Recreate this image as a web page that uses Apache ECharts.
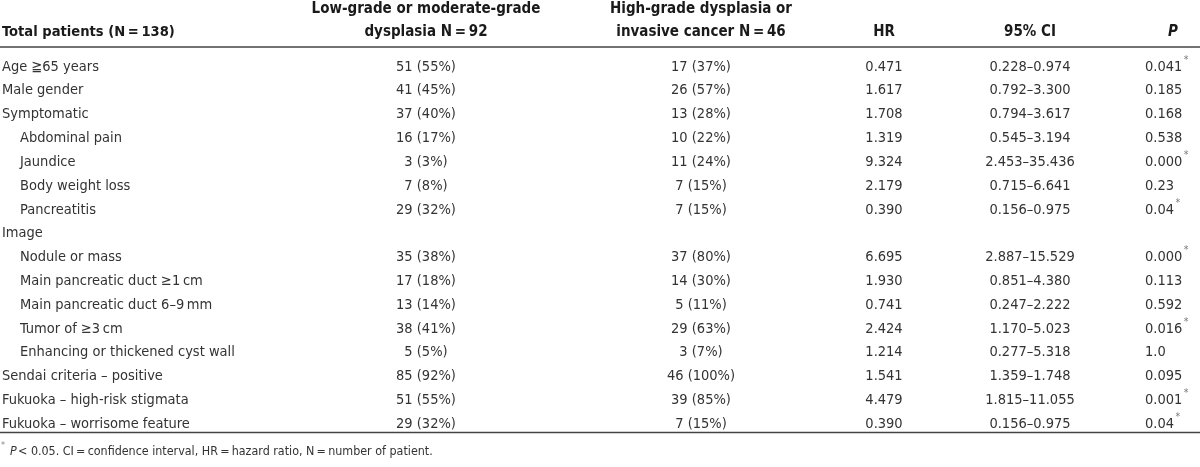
<!DOCTYPE html>
<html><head><meta charset="utf-8">
<script src="https://cdn.jsdelivr.net/npm/echarts@6/dist/echarts.min.js"></script>
<style>html,body{margin:0;padding:0;background:#fff}#c{width:1200px;height:467px}</style>
</head><body><div id="c"></div>
<script>
// ---- data ----
const rowLabels = ["Age \u226765 years","Male gender","Symptomatic","Abdominal pain","Jaundice","Body weight loss","Pancreatitis","Image","Nodule or mass","Main pancreatic duct \u22651\u2009cm","Main pancreatic duct 6\u20139\u2009mm","Tumor of \u22653\u2009cm","Enhancing or thickened cyst wall","Sendai criteria \u2013 positive","Fukuoka \u2013 high-risk stigmata","Fukuoka \u2013 worrisome feature"];
const rowIndent = [0,0,0,1,1,1,1,0,1,1,1,1,1,0,0,0];
const lowN   = [51,41,37,16,3,7,29,null,35,17,13,38,5,85,51,29];
const lowPct = [55,45,40,17,3,8,32,null,38,18,14,41,5,92,55,32];
const highN  = [17,26,13,10,11,7,7,null,37,14,5,29,3,46,39,7];
const highPct= [37,57,28,22,24,15,15,null,80,30,11,63,7,100,85,15];
const hrVals = ["0.471","1.617","1.708","1.319","9.324","2.179","0.390",null,"6.695","1.930","0.741","2.424","1.214","1.541","4.479","0.390"];
const ciLow  = ["0.228","0.792","0.794","0.545","2.453","0.715","0.156",null,"2.887","0.851","0.247","1.170","0.277","1.359","1.815","0.156"];
const ciHigh = ["0.974","3.300","3.617","3.194","35.436","6.641","0.975",null,"15.529","4.380","2.222","5.023","5.318","1.748","11.055","0.975"];
const pVals  = ["0.041","0.185","0.168","0.538","0.000","0.23","0.04",null,"0.000","0.113","0.592","0.016","1.0","0.095","0.001","0.04"];
const pSig   = [1,0,0,0,1,0,1,0,1,0,0,1,0,0,1,1];
const headerFirst = "Total patients (N\u2009=\u2009138)";
const headerLow = ["Low-grade or moderate-grade","dysplasia N\u2009=\u200992"];
const headerHigh = ["High-grade dysplasia or","invasive cancer N\u2009=\u200946"];
const headerHR = "HR", headerCI = "95% CI", headerP = "P";
const footnote = "< 0.05. CI\u2009=\u2009confidence interval, HR\u2009=\u2009hazard ratio, N\u2009=\u2009number of patient.";

// ---- layout ----
const FONT = '"Liberation Sans Narrow","DejaVu Sans Condensed","Liberation Sans",sans-serif';
const BODY_SIZE = 14.5;
const BODY = {fontFamily: FONT, fontSize: BODY_SIZE, fill: '#333'};
const FOOT = {fontFamily: FONT, fontSize: 12.4, fill: '#333'};
const HEAD = {fontFamily: FONT, fontSize: 15, fontWeight: 'bold', fill: '#1a1a1a'};
const COL = {label: 2, indent: 20, low: 426, high: 701, hr: 884, ci: 1030, p: 1145};

const measureCtx = document.createElement('canvas').getContext('2d');
function textWidth(t, size) {
  measureCtx.font = size + 'px ' + FONT;
  return measureCtx.measureText(t).width;
}

const chart = echarts.init(document.getElementById('c'), null, {renderer: 'canvas'});
const idx = rowLabels.map((_, i) => i);

function textSeries(name, fn) {
  return {
    type: 'custom', name, coordinateSystem: 'cartesian2d', silent: true,
    data: idx.map(i => [0, i]),
    encode: {x: 0, y: 1},
    renderItem: function (params, api) {
      return fn(api.value(1), api);
    }
  };
}
function txt(x, y, text, align, extra) {
  return {type: 'text', style: Object.assign({x, y, text, align, verticalAlign: 'middle'}, BODY, extra || {})};
}

const series = [
  textSeries('label', (i, api) => {
    const p = api.coord([rowIndent[i] ? COL.indent : COL.label, i]);
    return txt(p[0], p[1], rowLabels[i], 'left');
  }),
  textSeries('low', (i, api) => {
    if (lowN[i] == null) return null;
    const p = api.coord([COL.low, i]);
    return txt(p[0], p[1], lowN[i] + ' (' + lowPct[i] + '%)', 'center');
  }),
  textSeries('high', (i, api) => {
    if (highN[i] == null) return null;
    const p = api.coord([COL.high, i]);
    return txt(p[0], p[1], highN[i] + ' (' + highPct[i] + '%)', 'center');
  }),
  textSeries('hr', (i, api) => {
    if (hrVals[i] == null) return null;
    const p = api.coord([COL.hr, i]);
    return txt(p[0], p[1], hrVals[i], 'center');
  }),
  textSeries('ci', (i, api) => {
    if (ciLow[i] == null) return null;
    const p = api.coord([COL.ci, i]);
    return txt(p[0], p[1], ciLow[i] + '\u2013' + ciHigh[i], 'center');
  }),
  textSeries('p', (i, api) => {
    if (pVals[i] == null) return null;
    const p = api.coord([COL.p, i]);
    const children = [txt(p[0], p[1], pVals[i], 'left')];
    if (pSig[i]) {
      children.push({type: 'text', style: {x: p[0] + textWidth(pVals[i], BODY_SIZE) + 1.5, y: p[1] - 7, text: '*', align: 'left', verticalAlign: 'middle', fontFamily: FONT, fontSize: 10.5, fill: '#777'}});
    }
    return {type: 'group', children};
  })
];

const LINE = {stroke: '#444', lineWidth: 1.5};
const graphic = [
  {type: 'text', style: Object.assign({x: 2, y: 32, text: headerFirst, align: 'left', verticalAlign: 'middle'}, HEAD, {fontSize: 14.6})},
  {type: 'text', style: Object.assign({x: COL.low, y: 9, text: headerLow[0], align: 'center', verticalAlign: 'middle'}, HEAD)},
  {type: 'text', style: Object.assign({x: COL.low, y: 32, text: headerLow[1], align: 'center', verticalAlign: 'middle'}, HEAD)},
  {type: 'text', style: Object.assign({x: COL.high, y: 9, text: headerHigh[0], align: 'center', verticalAlign: 'middle'}, HEAD)},
  {type: 'text', style: Object.assign({x: COL.high, y: 32, text: headerHigh[1], align: 'center', verticalAlign: 'middle'}, HEAD)},
  {type: 'text', style: Object.assign({x: COL.hr, y: 32, text: headerHR, align: 'center', verticalAlign: 'middle'}, HEAD)},
  {type: 'text', style: Object.assign({x: COL.ci, y: 32, text: headerCI, align: 'center', verticalAlign: 'middle'}, HEAD)},
  {type: 'text', style: Object.assign({x: 1173, y: 32, text: headerP, align: 'center', verticalAlign: 'middle', fontStyle: 'italic'}, HEAD)},
  {type: 'line', shape: {x1: 0, y1: 47, x2: 1200, y2: 47}, style: LINE},
  {type: 'line', shape: {x1: 0, y1: 432.5, x2: 1200, y2: 432.5}, style: LINE},
  {type: 'text', style: {x: 1, y: 446, text: '*', align: 'left', verticalAlign: 'middle', fontFamily: FONT, fontSize: 9, fill: '#888'}},
  {type: 'text', style: Object.assign({x: 10, y: 452, text: 'P', align: 'left', verticalAlign: 'middle', fontStyle: 'italic'}, FOOT)},
  {type: 'text', style: Object.assign({x: 18, y: 452, text: footnote, align: 'left', verticalAlign: 'middle'}, FOOT)}
];

chart.setOption({
  animation: false,
  backgroundColor: '#fff',
  grid: {left: 0, right: 0, top: 55, bottom: 31},
  xAxis: {type: 'value', min: 0, max: 1200, show: false},
  yAxis: {type: 'category', data: rowLabels, inverse: true, show: false},
  series,
  graphic
});
</script>
</body></html>
